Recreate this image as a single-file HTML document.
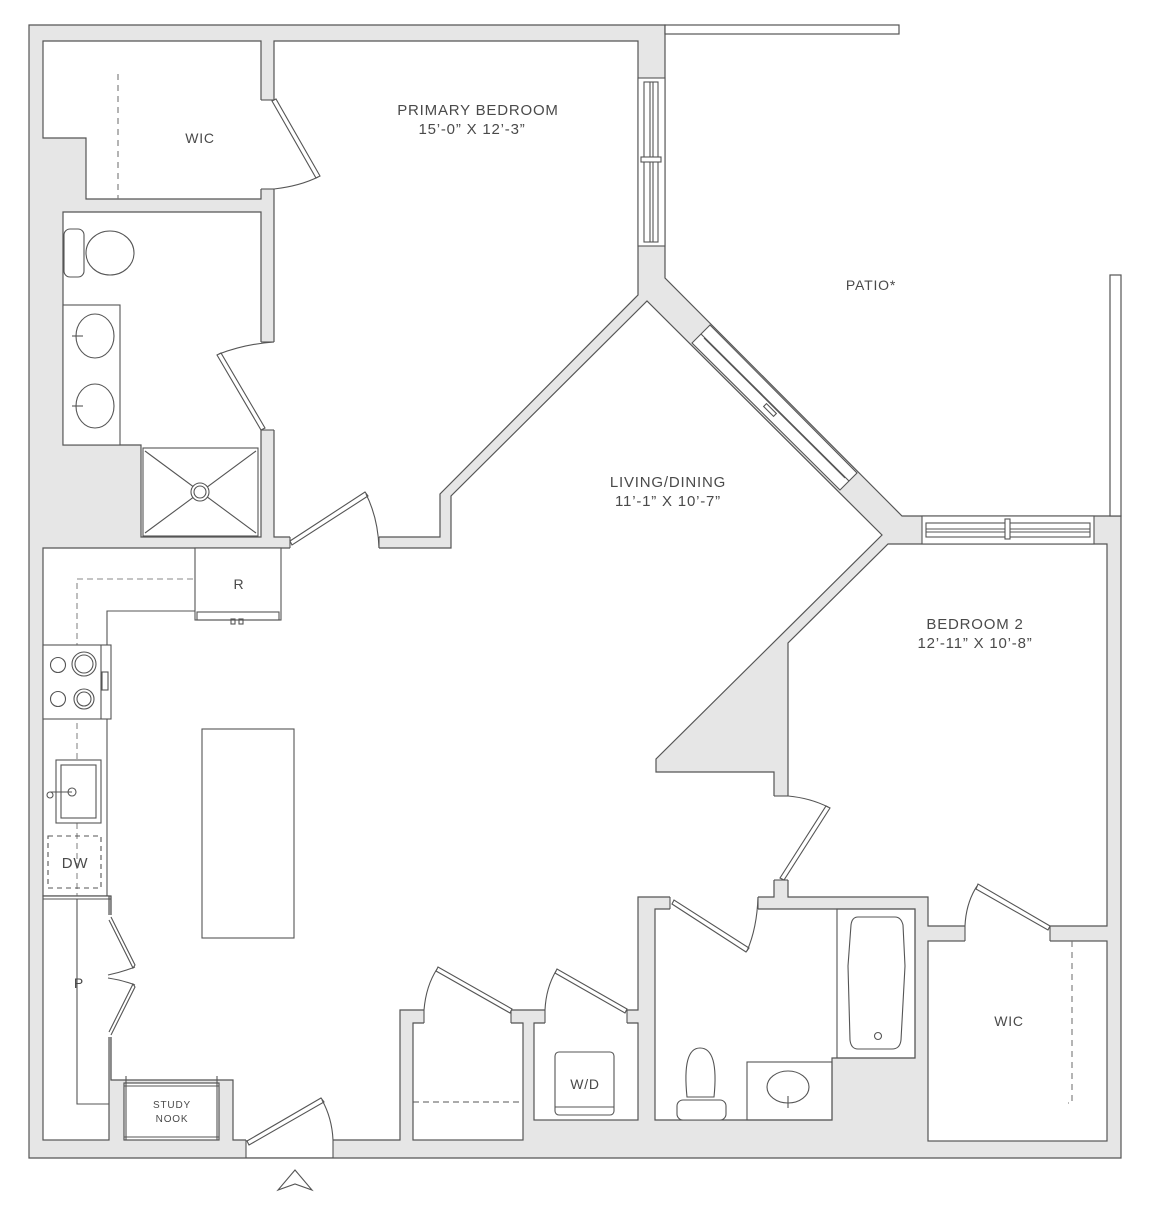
<!DOCTYPE html>
<html><head><meta charset="utf-8"><style>
html,body{margin:0;padding:0;background:#fff;}
svg{display:block;}
text{font-family:"Liberation Sans",sans-serif;fill:#4a4a4a;letter-spacing:0.8px;}
</style></head><body>
<svg width="1150" height="1216" viewBox="0 0 1150 1216" xmlns="http://www.w3.org/2000/svg">
<g stroke="#555" stroke-width="1.2" fill="none">
<!-- outer walls -->
<polygon points="29,25 665,25 665,278 902,516 1121,516 1121,1158 29,1158" fill="#e6e6e6"/>
<!-- patio railings -->
<rect x="665" y="25" width="234" height="9" fill="#fff"/>
<rect x="1110" y="275" width="11" height="241" fill="#fff"/>
<!-- rooms -->
<polygon points="43,41 261,41 261,199 86,199 86,138 43,138" fill="#fff"/>
<polygon points="274,41 638,41 638,295 440,494 440,537 274,537" fill="#fff"/>
<polygon points="63,212 261,212 261,537 141,537 141,445 63,445" fill="#fff"/>
<polygon points="43,548 451,548 451,496 647,301 882,535 656,759 656,772 774,772 774,897 638,897 638,1010 400,1010 400,1140 233,1140 233,1080 111,1080 111,896 43,896" fill="#fff"/>
<polygon points="888,544 1107,544 1107,926 928,926 928,897 788,897 788,643" fill="#fff"/>
<rect x="43" y="896" width="66" height="244" fill="#fff"/>
<rect x="124" y="1083" width="95" height="57" fill="#fff"/>
<rect x="413" y="1023" width="110" height="117" fill="#fff"/>
<rect x="534" y="1023" width="104" height="97" fill="#fff"/>
<polygon points="655,909 915,909 915,1058 832,1058 832,1120 655,1120" fill="#fff"/>
<rect x="928" y="941" width="179" height="200" fill="#fff"/>
</g>
<!-- door gaps -->
<g fill="#fff" stroke="none">
<rect x="260" y="100" width="15.5" height="89"/>
<rect x="260" y="342" width="15.5" height="88"/>
<rect x="290" y="536" width="89" height="13"/>
<rect x="773" y="796" width="16" height="84"/>
<rect x="670" y="896" width="88" height="14"/>
<rect x="965" y="925" width="85" height="17"/>
<rect x="424" y="1009" width="87" height="15"/>
<rect x="545" y="1009" width="82" height="15"/>
<rect x="246" y="1139" width="87" height="18"/>
<rect x="106" y="915" width="7" height="122"/>
</g>
<g stroke="#555" stroke-width="1.1" fill="none">
<!-- door gap edge lines -->
<line x1="261" y1="100" x2="274" y2="100"/><line x1="261" y1="189" x2="274" y2="189"/>
<line x1="261" y1="342" x2="274" y2="342"/><line x1="261" y1="430" x2="274" y2="430"/>
<line x1="290" y1="537" x2="290" y2="548"/><line x1="379" y1="537" x2="379" y2="548"/>
<line x1="774" y1="796" x2="788" y2="796"/><line x1="774" y1="880" x2="788" y2="880"/>
<line x1="670" y1="897" x2="670" y2="909"/><line x1="758" y1="897" x2="758" y2="909"/>
<line x1="965" y1="926" x2="965" y2="941"/><line x1="1050" y1="926" x2="1050" y2="941"/>
<line x1="424" y1="1010" x2="424" y2="1023"/><line x1="511" y1="1010" x2="511" y2="1023"/>
<line x1="545" y1="1010" x2="545" y2="1023"/><line x1="627" y1="1010" x2="627" y2="1023"/>
<line x1="246" y1="1140" x2="246" y2="1158"/><line x1="333" y1="1140" x2="333" y2="1158"/>
<line x1="413" y1="1023" x2="424" y2="1023"/><line x1="511" y1="1023" x2="523" y2="1023"/>
<line x1="534" y1="1023" x2="545" y2="1023"/><line x1="627" y1="1023" x2="638" y2="1023"/>
<line x1="111" y1="896" x2="111" y2="915"/><line x1="111" y1="1037" x2="111" y2="1080"/>
<!-- door panels -->
<polygon points="272,101 276,99 320,176 316,178" fill="#fff"/>
<path d="M318,177 Q300,186 274,189"/>
<polygon points="217,355 221,353 265,428 261,430" fill="#fff"/>
<path d="M219,354 Q245,344 274,342"/>
<polygon points="292,545 290,541 365,492 368,496" fill="#fff"/>
<path d="M366,494 Q378,518 379,548"/>
<polygon points="780,878 784,880 830,808 826,806" fill="#fff"/>
<path d="M828,807 Q810,798 788,796"/>
<polygon points="672,904 674,900 749,948 746,952" fill="#fff"/>
<path d="M747,951 Q757,928 758,897"/>
<polygon points="976,889 978,884 1050,926 1048,930" fill="#fff"/>
<path d="M977,886 Q966,903 965,926"/>
<polygon points="436,971 438,967 512,1009 510,1013" fill="#fff"/>
<path d="M437,969 Q426,986 424,1010"/>
<polygon points="555,973 557,969 627,1009 625,1013" fill="#fff"/>
<path d="M556,971 Q546,988 545,1010"/>
<polygon points="247,1141 249,1145 324,1102 321,1098" fill="#fff"/>
<path d="M322,1100 Q332,1118 333,1140"/>
<polyline points="111,917 135,965 133,968 109,920"/>
<path d="M108,975 Q122,972 135,967"/>
<polyline points="111,1035 135,987 133,984 109,1032"/>
<path d="M108,978 Q122,980 135,985"/>
<!-- windows -->
<rect x="638" y="78" width="27" height="168" fill="#fff"/>
<rect x="644" y="82" width="14" height="160"/>
<line x1="650" y1="82" x2="650" y2="242"/><line x1="653" y1="82" x2="653" y2="242"/>
<rect x="641" y="157" width="20" height="5" fill="#fff"/>
<rect x="922" y="516" width="172" height="28" fill="#fff"/>
<rect x="926" y="523" width="164" height="14"/>
<line x1="926" y1="529" x2="1090" y2="529"/><line x1="926" y1="532" x2="1090" y2="532"/>
<rect x="1005" y="519" width="5" height="20" fill="#fff"/>
<polygon points="692,343 710,325 857,473 840,490" fill="#fff"/>
<line x1="701" y1="334" x2="849" y2="481"/>
<line x1="704" y1="338" x2="845" y2="478"/>
<rect x="768" y="403" width="4" height="14" transform="rotate(-45 770 410)" fill="#fff"/>
<!-- kitchen -->
<rect x="195" y="548" width="86" height="72" fill="#fff"/>
<rect x="197" y="612" width="82" height="8"/>
<rect x="231" y="619" width="4" height="5"/><rect x="239" y="619" width="4" height="5"/>
<polyline points="195,611 107,611 107,896"/>
<polyline points="193,579 77,579 77,896" stroke-dasharray="6,4" stroke="#888"/>
<rect x="43" y="645" width="68" height="74" fill="#fff"/>
<line x1="101" y1="645" x2="101" y2="719"/>
<circle cx="58" cy="665" r="7.5"/><circle cx="84" cy="664" r="12"/><circle cx="84" cy="664" r="9"/>
<circle cx="58" cy="699" r="7.5"/><circle cx="84" cy="699" r="10"/><circle cx="84" cy="699" r="7"/>
<rect x="102" y="672" width="6" height="18"/>
<rect x="56" y="760" width="45" height="63" fill="#fff"/><rect x="61" y="765" width="35" height="53"/>
<circle cx="72" cy="792" r="4"/><line x1="50" y1="792" x2="72" y2="792"/><circle cx="50" cy="795" r="3"/>
<rect x="48" y="836" width="53" height="52" stroke-dasharray="5,4"/>
<line x1="43" y1="896" x2="111" y2="896"/><line x1="43" y1="899" x2="111" y2="899"/>
<polyline points="77,899 77,1104 109,1104"/>
<rect x="202" y="729" width="92" height="209" fill="#fff"/>
<!-- study nook -->
<line x1="124" y1="1086" x2="219" y2="1086"/><line x1="124" y1="1137" x2="219" y2="1137"/>
<line x1="126" y1="1076" x2="126" y2="1140"/><line x1="217" y1="1076" x2="217" y2="1140"/>
<!-- closets -->
<line x1="413" y1="1102" x2="523" y2="1102" stroke-dasharray="6,4"/>
<rect x="555" y="1052" width="59" height="63" rx="4" fill="#fff"/>
<line x1="555" y1="1107" x2="614" y2="1107"/>
<!-- WIC1 rod -->
<line x1="118" y1="74" x2="118" y2="199" stroke-dasharray="6,5" stroke="#777"/>
<!-- bathroom 1 -->
<rect x="64" y="229" width="20" height="48" rx="6" fill="#fff"/>
<ellipse cx="110" cy="253" rx="24" ry="22" fill="#fff"/>
<rect x="63" y="305" width="57" height="140" fill="#fff"/>
<ellipse cx="95" cy="336" rx="19" ry="22"/><ellipse cx="95" cy="406" rx="19" ry="22"/>
<line x1="72" y1="336" x2="83" y2="336"/><line x1="72" y1="406" x2="83" y2="406"/>
<rect x="143" y="448" width="115" height="88" fill="#fff"/>
<line x1="145" y1="451" x2="256" y2="533"/><line x1="256" y1="451" x2="145" y2="533"/>
<circle cx="200" cy="492" r="9" fill="#fff"/><circle cx="200" cy="492" r="6"/>
<!-- bathroom 2 -->
<rect x="837" y="909" width="78" height="149"/>
<path d="M858,917 L895,917 Q901,917 903,925 L905,966 L901,1040 Q900,1049 892,1049 L858,1049 Q851,1049 850,1040 L848,966 L851,925 Q852,917 858,917 Z"/>
<circle cx="878" cy="1036" r="3.5"/>
<rect x="747" y="1062" width="85" height="58"/>
<ellipse cx="788" cy="1087" rx="21" ry="16"/>
<line x1="788" y1="1096" x2="788" y2="1108"/>
<path d="M687,1097 Q682,1048 700,1048 Q719,1048 714,1097 Z" fill="#fff"/>
<rect x="677" y="1100" width="49" height="20" rx="6" fill="#fff"/>
<!-- WIC2 rod -->
<polyline points="1072,941 1072,1103 1068,1103" stroke-dasharray="6,5" stroke="#777"/>
<!-- entry arrow -->
<polygon points="295,1170 312,1190 295,1184 278,1190"/>
</g>
<text x="478" y="115" font-size="15" text-anchor="middle">PRIMARY BEDROOM</text>
<text x="472" y="134" font-size="15" text-anchor="middle">15’-0” X 12’-3”</text>
<text x="200" y="143" font-size="14" text-anchor="middle">WIC</text>
<text x="871" y="290" font-size="14" text-anchor="middle">PATIO*</text>
<text x="668" y="487" font-size="15" text-anchor="middle">LIVING/DINING</text>
<text x="668" y="506" font-size="15" text-anchor="middle">11’-1” X 10’-7”</text>
<text x="975" y="629" font-size="15" text-anchor="middle">BEDROOM 2</text>
<text x="975" y="648" font-size="15" text-anchor="middle">12’-11” X 10’-8”</text>
<text x="239" y="589" font-size="14" text-anchor="middle">R</text>
<text x="75" y="868" font-size="15" text-anchor="middle">DW</text>
<text x="79" y="988" font-size="14" text-anchor="middle">P</text>
<text x="172" y="1108" font-size="10" text-anchor="middle" letter-spacing="0">STUDY</text>
<text x="172" y="1122" font-size="10" text-anchor="middle" letter-spacing="0">NOOK</text>
<text x="585" y="1089" font-size="14" text-anchor="middle">W/D</text>
<text x="1009" y="1026" font-size="14" text-anchor="middle">WIC</text>
</svg>
</body></html>
